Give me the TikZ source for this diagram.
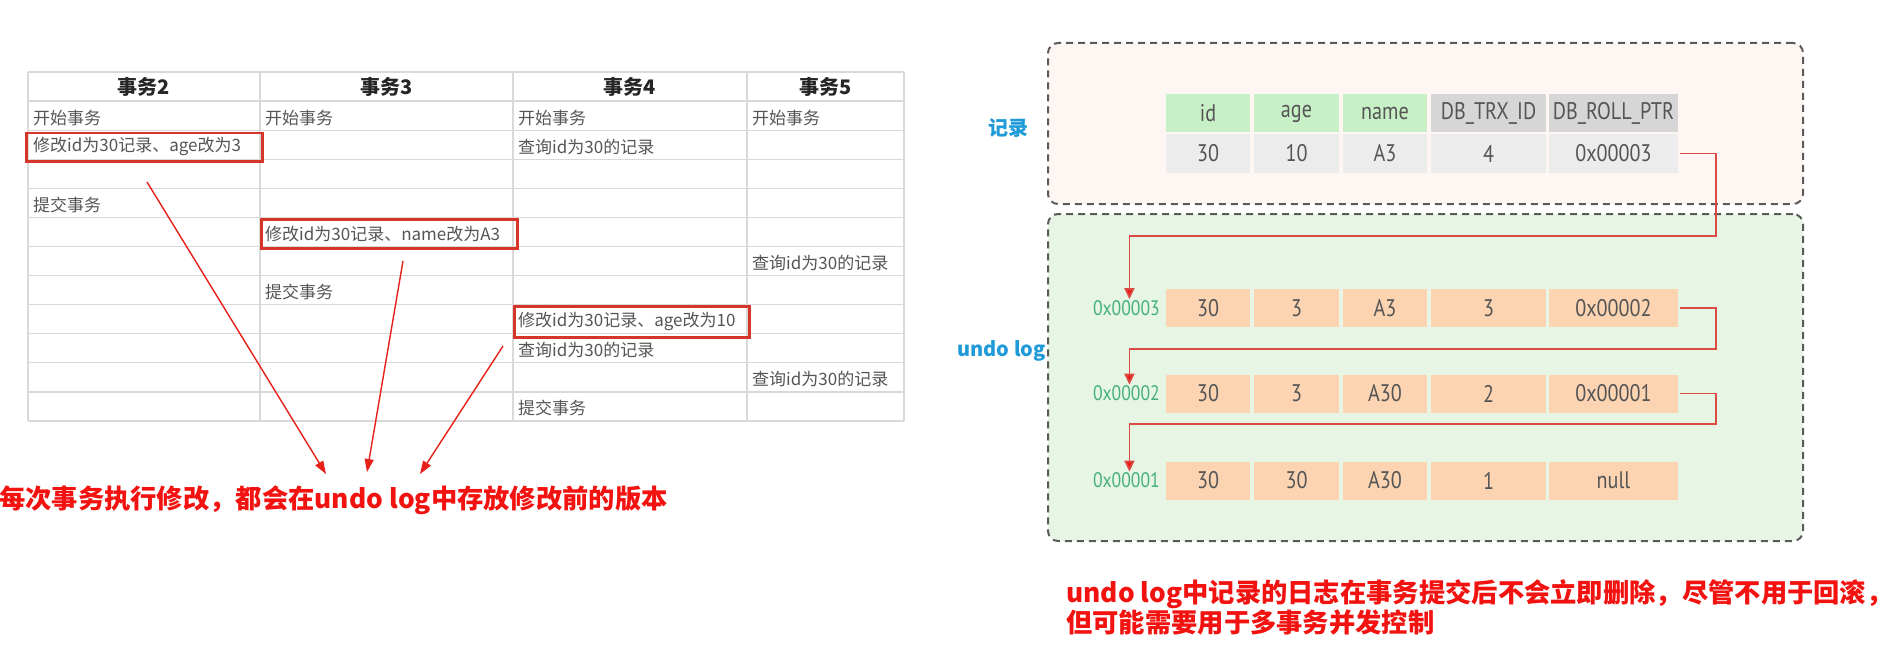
\documentclass[tikz,border=0pt]{standalone}
\usepackage{fontspec}
\newfontfamily\cjk{Noto Sans CJK SC}
\newfontfamily\cellfont{PT Sans}[FakeStretch=0.84]
\usetikzlibrary{arrows.meta}
\definecolor{gridc}{HTML}{D9D9D9}
\definecolor{txt}{HTML}{555555}
\definecolor{boxred}{HTML}{D8352A}
\definecolor{arrred}{HTML}{E8201A}
\definecolor{capred}{HTML}{F2120F}
\definecolor{lblblue}{HTML}{1E9AD8}
\definecolor{recfill}{HTML}{FDF6F2}
\definecolor{undofill}{HTML}{E7F6E4}
\definecolor{dashc}{HTML}{5A5A5A}
\definecolor{hgreen}{HTML}{C8F0C6}
\definecolor{hgray}{HTML}{D6D6D6}
\definecolor{dgray}{HTML}{ECECEC}
\definecolor{peach}{HTML}{FCD4B2}
\definecolor{addrgreen}{HTML}{45B07A}
\definecolor{connred}{HTML}{DB4B43}
\tikzset{
  gridline/.style={draw=gridc, line width=1.3pt},
  head/.style={font=\cjk\bfseries\fontsize{20}{24}\selectfont, text=black!85, inner sep=0pt},
  cell/.style={font=\cjk\fontsize{17}{20}\selectfont, text=txt, anchor=west, inner sep=0pt},
  redbox/.style={draw=boxred, line width=2.5pt, anchor=north west, inner sep=0pt},
  ann/.style={draw=arrred, line width=1.4pt, -{Triangle[length=13pt,width=9pt,fill=arrred]}},
  caption/.style={font=\cjk\bfseries\fontsize{26.3}{29}\selectfont, text=capred, inner sep=0pt},
  region/.style={draw=dashc, line width=2pt, dash pattern=on 7pt off 5pt, rounded corners=10pt, anchor=north west, inner sep=0pt},
  sidelabel/.style={font=\cjk\bfseries\fontsize{20}{24}\selectfont, text=lblblue, inner sep=0pt},
  rc/.style={minimum height=38pt, inner sep=0pt, font=\cellfont\fontsize{24}{26}\selectfont, text=txt},
  addr/.style={font=\cellfont\fontsize{21}{24}\selectfont, text=addrgreen, inner sep=1pt, anchor=east},
  conn/.style={draw=connred, line width=1.6pt, -{Triangle[length=11pt,width=10pt,fill=arrred]}}
}
\begin{document}
\begin{tikzpicture}[x=1pt,y=-1pt]
\fill[white] (0,0) rectangle (1900,666);
\useasboundingbox (0,0) rectangle (1900,666);

% ---------------- left table ----------------
\foreach \i in {0,...,12} \draw[gridline] (28,{72+\i*29.08}) -- (904,{72+\i*29.08});
\foreach \x in {28,260,513,747,904} \draw[gridline] (\x,72) -- (\x,421);

\node[head] (t2) at (144,87) {事务2};
\node[head] (t3) at (386.5,87) {事务3};
\node[head] (t4) at (630,87) {事务4};
\node[head] (t5) at (825.5,87) {事务5};

\node[cell] (a1) at (33,117.6) {开始事务};
\node[cell] (b1) at (265,117.6) {开始事务};
\node[cell] (c1) at (518,117.6) {开始事务};
\node[cell] (d1) at (752,117.6) {开始事务};
\node[cell] (a2) at (33,146.7) {修改id为30记录、age改为3};
\node[cell] (c2) at (518,146.7) {查询id为30的记录};
\node[cell] (a4) at (33,204.9) {提交事务};
\node[cell] (b5) at (265,234) {修改id为30记录、name改为A3};
\node[cell] (d6) at (752,263) {查询id为30的记录};
\node[cell] (b7) at (265,292.1) {提交事务};
\node[cell] (c8) at (518,321.2) {修改id为30记录、age改为10};
\node[cell] (c9) at (518,350.3) {查询id为30的记录};
\node[cell] (d10) at (752,379.4) {查询id为30的记录};
\node[cell] (c11) at (518,408.4) {提交事务};

\node[redbox, minimum width=236pt, minimum height=28pt] (box1) at (25,132) {};
\node[redbox, minimum width=256pt, minimum height=29pt] (box2) at (260,218) {};
\node[redbox, minimum width=235pt, minimum height=31pt] (box3) at (513,305) {};

\node[caption, anchor=west] (capL) at (-1,500) {每次事务执行修改，都会在undo log中存放修改前的版本};

\coordinate (s1) at (147,182);
\coordinate (s2) at (403,261);
\coordinate (s3) at (503,346);
\coordinate (e1) at (326,474);
\coordinate (e2) at (367,472);
\coordinate (e3) at (420,474);
\draw[ann] (s1) -- (e1);
\draw[ann] (s2) -- (e2);
\draw[ann] (s3) -- (e3);

% ---------------- right side ----------------
\node[region, fill=recfill, minimum width=755pt, minimum height=161pt] (recbox) at (1047,42) {};
\node[region, fill=undofill, minimum width=755pt, minimum height=327pt] (undobox) at (1047,213) {};

\node[sidelabel] (lrec) at (1008,128) {记录};
\node[sidelabel, anchor=east] (lundo) at (1046,351) {undo log};

% record header
\node[rc, fill=hgreen, minimum width=84pt] (h1) at (1208,113.5) {id};
\node[rc, fill=hgreen, minimum width=85pt] (h2) at (1296.5,113.5) {age};
\node[rc, fill=hgreen, minimum width=84pt] (h3) at (1385,113.5) {name};
\node[rc, fill=hgray, minimum width=115pt] (h4) at (1488.5,113.5) {DB\_TRX\_ID};
\node[rc, fill=hgray, minimum width=129pt] (h5) at (1613.5,113.5) {DB\_ROLL\_PTR};
% record row
\node[rc, fill=dgray, minimum width=84pt] (r1) at (1208,153.5) {30};
\node[rc, fill=dgray, minimum width=85pt] (r2) at (1296.5,153.5) {10};
\node[rc, fill=dgray, minimum width=84pt] (r3) at (1385,153.5) {A3};
\node[rc, fill=dgray, minimum width=115pt] (r4) at (1488.5,153.5) {4};
\node[rc, fill=dgray, minimum width=129pt] (r5) at (1613.5,153.5) {0x00003};

% undo rows
\node[addr] (ad1) at (1161,308) {0x00003};
\node[rc, fill=peach, minimum width=84pt] (u11) at (1208,308) {30};
\node[rc, fill=peach, minimum width=85pt] (u12) at (1296.5,308) {3};
\node[rc, fill=peach, minimum width=84pt] (u13) at (1385,308) {A3};
\node[rc, fill=peach, minimum width=115pt] (u14) at (1488.5,308) {3};
\node[rc, fill=peach, minimum width=129pt] (u15) at (1613.5,308) {0x00002};

\node[addr] (ad2) at (1161,393.5) {0x00002};
\node[rc, fill=peach, minimum width=84pt] (u21) at (1208,393.5) {30};
\node[rc, fill=peach, minimum width=85pt] (u22) at (1296.5,393.5) {3};
\node[rc, fill=peach, minimum width=84pt] (u23) at (1385,393.5) {A30};
\node[rc, fill=peach, minimum width=115pt] (u24) at (1488.5,393.5) {2};
\node[rc, fill=peach, minimum width=129pt] (u25) at (1613.5,393.5) {0x00001};

\node[addr] (ad3) at (1161,480.5) {0x00001};
\node[rc, fill=peach, minimum width=84pt] (u31) at (1208,480.5) {30};
\node[rc, fill=peach, minimum width=85pt] (u32) at (1296.5,480.5) {30};
\node[rc, fill=peach, minimum width=84pt] (u33) at (1385,480.5) {A30};
\node[rc, fill=peach, minimum width=115pt] (u34) at (1488.5,480.5) {1};
\node[rc, fill=peach, minimum width=129pt] (u35) at (1613.5,480.5) {null};

\coordinate (k0) at (1716,236);
\coordinate (k1) at (1716,349);
\coordinate (k2) at (1716,424);
\draw[conn] ([xshift=2pt]r5.east) -| (k0) -| ([xshift=3pt]ad1.north);
\draw[conn] ([xshift=2pt]u15.east) -| (k1) -| ([xshift=3pt]ad2.north);
\draw[conn] ([xshift=2pt]u25.east) -| (k2) -| ([xshift=3pt]ad3.north);

\node[caption, anchor=west, align=left] (capR) at (1066,607) {undo log中记录的日志在事务提交后不会立即删除，尽管不用于回滚，\\但可能需要用于多事务并发控制};
\end{tikzpicture}
\end{document}
